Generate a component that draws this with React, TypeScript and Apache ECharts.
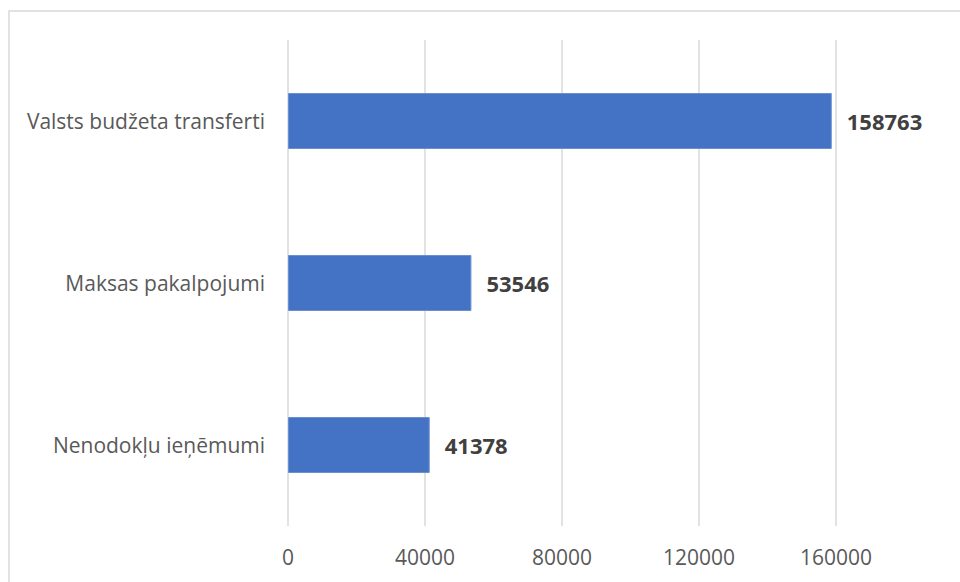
import React, { useEffect, useRef } from "react";
import * as echarts from "echarts";

const categories = ["Valsts budžeta transferti", "Maksas pakalpojumi", "Nenodokļu ieņēmumi"];
const values = [158763, 53546, 41378];
const xTicks = { min: 0, max: 200000, interval: 40000 };

export default function App() {
  const ref = useRef<HTMLDivElement>(null);
  useEffect(() => {
    if (!ref.current) return;
    const chart = echarts.init(ref.current, null, { renderer: "svg" });
    const font = "'Open Sans', sans-serif";
    chart.setOption({
      animation: false,
      backgroundColor: "#ffffff",
      graphic: [
        {
          type: "rect",
          shape: { x: 9, y: 11, width: 1100, height: 1000 },
          style: { fill: "none", stroke: "#d9d9d9", lineWidth: 1.5 },
          silent: true,
        },
      ],
      grid: { left: 288, top: 40, width: 685, height: 486, containLabel: false },
      xAxis: {
        type: "value",
        min: xTicks.min,
        max: xTicks.max,
        interval: xTicks.interval,
        axisLine: { show: false },
        axisTick: { show: false },
        splitLine: { show: true, lineStyle: { color: "#d9d9d9", width: 1.5 } },
        axisLabel: {
          color: "#595959",
          fontFamily: font,
          fontSize: 21,
          margin: 20,
          showMaxLabel: false,
          formatter: (v: number) => String(v),
        },
      },
      yAxis: {
        type: "category",
        data: categories,
        inverse: true,
        axisLine: { show: false },
        axisTick: { show: false },
        splitLine: { show: false },
        axisLabel: {
          color: "#595959",
          fontFamily: font,
          fontSize: 21,
          margin: 23,
        },
      },
      series: [
        {
          type: "bar",
          data: values,
          barWidth: 56,
          itemStyle: { color: "#4472C4", borderColor: "#6a8fd0", borderWidth: 1 },
          label: {
            show: true,
            position: "right",
            distance: 15,
            color: "#404040",
            fontFamily: font,
            fontSize: 22,
            fontWeight: "bold",
          },
        },
      ],
    });
    return () => chart.dispose();
  }, []);
  return (
    <div
      ref={ref}
      style={{ position: "fixed", left: 0, top: 0, width: 1010, height: 582 }}
    />
  );
}
